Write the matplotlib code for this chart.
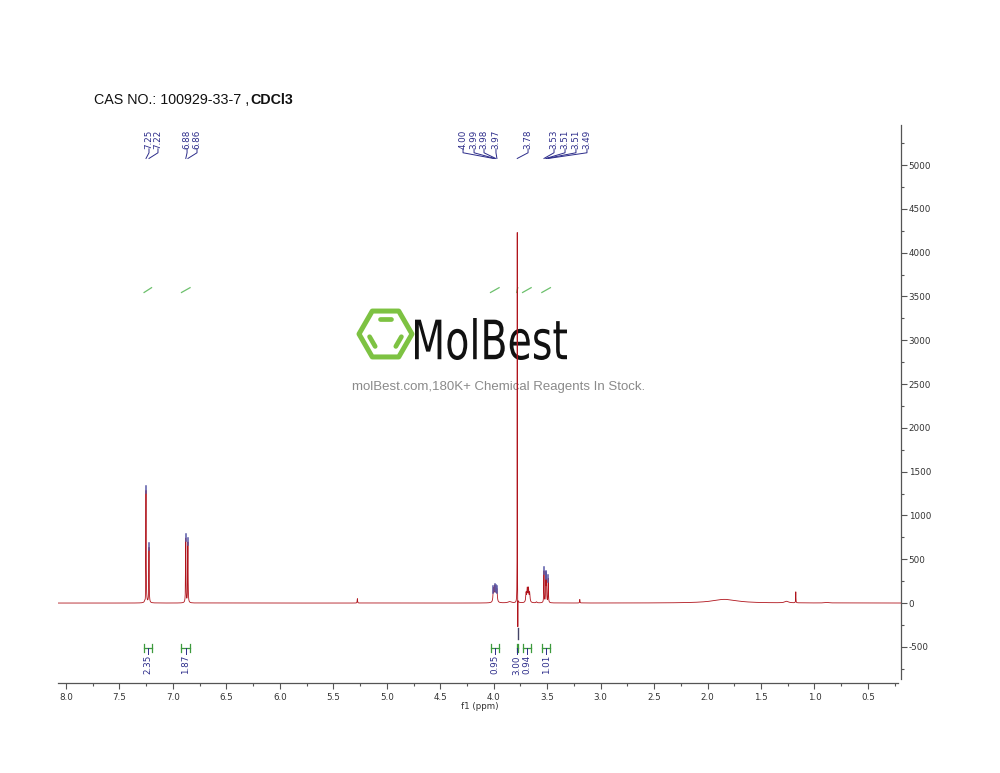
#!/usr/bin/env python3
"""
1H NMR spectrum (CDCl3) of CAS 100929-33-7, redrawn in the MestReNova look.
"""

import numpy as np
import matplotlib
matplotlib.use('Agg')  # no display
import matplotlib.pyplot as plt
from matplotlib.ticker import MultipleLocator, FuncFormatter
from matplotlib.textpath import TextPath
from matplotlib.patches import PathPatch, Polygon
from matplotlib.font_manager import FontProperties
from matplotlib.transforms import Affine2D, IdentityTransform

# picked peaks (ppm, label, intensity, half width)
peak_ppm = [7.252, 7.224, 6.880, 6.860, 4.003, 3.992, 3.981, 3.970,
            3.780, 3.530, 3.513, 3.507, 3.490]
peak_labels = ['7.25', '7.22', '6.88', '6.86', '4.00', '3.99', '3.98', '3.97',
               '3.78', '3.53', '3.51', '3.51', '3.49']
peak_height = [1290, 630, 735, 690, 150, 165, 160, 140,
               4235, 360, 320, 300, 275]
peak_width = [0.002, 0.002, 0.002, 0.002, 0.004, 0.004, 0.004, 0.004,
              0.0008, 0.002, 0.002, 0.002, 0.002]

# signals that were not labelled
extra_ppm = [3.697, 3.686, 3.675, 3.664, 5.275, 3.195, 1.84, 1.26, 1.175, 3.85, 3.60, 0.88]
extra_height = [105, 150, 150, 105, 50, 40, 42, 18, 125, 15, 12, 6]
extra_width = [0.004, 0.004, 0.004, 0.004, 0.002, 0.002, 0.14, 0.02, 0.0015, 0.02, 0.005, 0.02]

# dispersive dips under the strong lines
dip_ppm = [7.258, 3.7745]
dip_height = [-70, -360]
dip_width = [0.002, 0.0006]

# integrals: range and value
integ_from = [7.27, 6.92, 4.03, 3.785, 3.73, 3.55]
integ_to = [7.20, 6.84, 3.95, 3.775, 3.65, 3.47]
integ_values = ['2.35', '1.87', '0.95', '3.00', '0.94', '1.01']

# where the peak labels sit along the top (ppm), as MestReNova spread them
label_slots = [7.224, 7.140, 6.868, 6.775, 4.287, 4.184, 4.091, 3.979,
               3.679, 3.436, 3.333, 3.231, 3.128]

LABEL_BLUE = '#2c2c8a'
INTEG_GREEN = '#3d9a3d'
LINE_RED = '#b0141c'
AXIS_GREY = '#555555'

W, H = 1000, 773


def px_y(py):
    """figure fraction from a pixel row counted from the top"""
    return 1 - py / H


def lorentz(x, p, h, w):
    return h * w ** 2 / ((x - p) ** 2 + w ** 2)


fig = plt.figure(figsize=(10, 7.73), dpi=100)
ax = fig.add_axes([0.058, 0.1164, 0.843, 0.7219])
ax.patch.set_visible(False)

xlo, xhi = 8.075, 0.191
ylo, yhi = -913, 5457
ax.set_xlim(xlo, xhi)
ax.set_ylim(ylo, yhi)

# spectrum
x = np.linspace(0.15, 8.2, 120000)
y = np.zeros_like(x)
for p, h, w in zip(peak_ppm, peak_height, peak_width):
    y += lorentz(x, p, h, w)
for p, h, w in zip(extra_ppm, extra_height, extra_width):
    y += lorentz(x, p, h, w)
for p, h, w in zip(dip_ppm, dip_height, dip_width):
    y += lorentz(x, p, h, w)
ax.plot(x, y, color=LINE_RED, linewidth=0.6, zorder=3)

# peak markers on top of picked peaks (not on the strong singlet)
for p, h in zip(peak_ppm, peak_height):
    if h < 2000:
        ax.plot([p, p], [h - 30, h + 50], color='#5a5aa8', linewidth=1.1, zorder=4)
for p, h in zip(dip_ppm[1:], dip_height[1:]):
    ax.plot([p, p], [h * 0.8, h * 1.15], color='#444466', linewidth=1.0, zorder=4)

# peak labels with connectors
y_text = 5185
y_knee = 5140
y_end = 5075
for p, lab, slot in zip(peak_ppm, peak_labels, label_slots):
    ax.text(slot, y_text, lab, rotation=90, ha='center', va='bottom',
            fontsize=6.3, color=LABEL_BLUE, family='DejaVu Sans')
    ax.plot([slot, slot, p], [y_text, y_knee, y_end], color=LABEL_BLUE,
            linewidth=0.7, zorder=4)

# integral curves (short green steps) and brackets at the bottom
for a, b, v in zip(integ_from, integ_to, integ_values):
    ax.plot([a, b], [3545, 3600], color='#6cc06c', linewidth=0.9)
    yb = -514
    ax.plot([a, b], [yb, yb], color=INTEG_GREEN, linewidth=0.9)
    ax.plot([a, a], [yb - 45, yb + 45], color=INTEG_GREEN, linewidth=0.9)
    ax.plot([b, b], [yb - 45, yb + 45], color=INTEG_GREEN, linewidth=0.9)
    c = (a + b) / 2
    ax.plot([c, c], [yb, yb - 70], color=LABEL_BLUE, linewidth=0.7)
    ax.text(c, yb - 80, v, rotation=90, ha='center', va='top',
            fontsize=6.3, color=LABEL_BLUE, family='DejaVu Sans')

# axes styling
for side in ['top', 'left']:
    ax.spines[side].set_visible(False)
ax.spines['right'].set_color(AXIS_GREY)
ax.spines['bottom'].set_color(AXIS_GREY)
ax.spines['right'].set_linewidth(0.9)
ax.spines['bottom'].set_linewidth(0.9)
ax.spines['right'].set_bounds(-870, yhi)
ax.spines['bottom'].set_bounds(xlo, 0.22)

ax.yaxis.tick_right()
ax.yaxis.set_major_locator(MultipleLocator(500))
ax.yaxis.set_minor_locator(MultipleLocator(250))
ax.yaxis.set_major_formatter(FuncFormatter(lambda v, pos: f'{v:.0f}'))
ax.xaxis.set_major_locator(MultipleLocator(0.5))
ax.xaxis.set_minor_locator(MultipleLocator(0.25))
ax.xaxis.set_major_formatter(FuncFormatter(lambda v, pos: f'{v:.1f}'))
ax.tick_params(axis='both', which='major', length=4, width=0.8, color=AXIS_GREY,
               labelsize=6.3, labelcolor='#333333', pad=1.5)
ax.tick_params(axis='both', which='minor', length=2.5, width=0.8, color=AXIS_GREY)
ax.tick_params(axis='x', which='major', pad=3)
ax.set_xlabel('f1 (ppm)', fontsize=6.3, color='#333333', labelpad=0)
for lab in ax.get_xticklabels() + ax.get_yticklabels():
    lab.set_family('DejaVu Sans')

# title: plain part then bold solvent
t1 = fig.text(0.094, px_y(104), 'CAS NO.: 100929-33-7 ,', fontsize=10.3,
              family='Liberation Sans', va='baseline', color='#111111')
renderer = fig.canvas.get_renderer()
bb = t1.get_window_extent(renderer=renderer)
fig.text(bb.x1 / W + 0.001, px_y(104), 'CDCl3', fontsize=10.3, fontweight='bold',
         family='Liberation Sans', va='baseline', color='#111111')

# watermark: hexagon logo
cx, cy, R = 385.5, 334, 26.5
ang = np.deg2rad(np.arange(0, 360, 60))
hx = cx + R * np.cos(ang)
hy = cy - R * np.sin(ang)
verts = [(vx / W, px_y(vy)) for vx, vy in zip(hx, hy)]
fig.patches.append(Polygon(verts, closed=True, fill=False, edgecolor='#7dc242',
                           linewidth=3.6, joinstyle='round',
                           transform=fig.transFigure, zorder=-2))
# inner bonds on three edges (top, lower left, lower right)
for i0, i1 in [(1, 2), (3, 4), (5, 0)]:
    sx0, sy0 = cx + (hx[i0] - cx) * 0.66, cy + (hy[i0] - cy) * 0.66
    sx1, sy1 = cx + (hx[i1] - cx) * 0.66, cy + (hy[i1] - cy) * 0.66
    ax0 = sx0 + (sx1 - sx0) * 0.18
    ax1 = sx0 + (sx1 - sx0) * 0.82
    ay0 = sy0 + (sy1 - sy0) * 0.18
    ay1 = sy0 + (sy1 - sy0) * 0.82
    fig.lines.append(plt.Line2D([ax0 / W, ax1 / W], [px_y(ay0), px_y(ay1)],
                                color='#7dc242', linewidth=3.4,
                                solid_capstyle='round',
                                transform=fig.transFigure, zorder=-2))

# watermark: condensed "MolBest" word, squeezed into its box
tp = TextPath((0, 0), 'MolBest', size=100,
              prop=FontProperties(family='DejaVu Sans'))
ext = tp.get_extents()
box_x0, box_x1 = 415, 567
box_top, box_bot = 318, 360
sx = (box_x1 - box_x0) / ext.width
sy = (box_bot - box_top) / ext.height
tr = (Affine2D().translate(-ext.x0, -ext.y0).scale(sx, sy)
      .translate(box_x0, H - box_bot))
word = PathPatch(tr.transform_path(tp), facecolor='#111111', edgecolor='none',
                 transform=IdentityTransform(), zorder=-2)
fig.patches.append(word)

fig.text(0.499, px_y(387), 'molBest.com,180K+ Chemical Reagents In Stock.',
         ha='center', va='center', fontsize=9.5, color='#8a8a8a',
         family='Liberation Sans', zorder=-2)

plt.savefig('out.png', dpi=100)
plt.close()
